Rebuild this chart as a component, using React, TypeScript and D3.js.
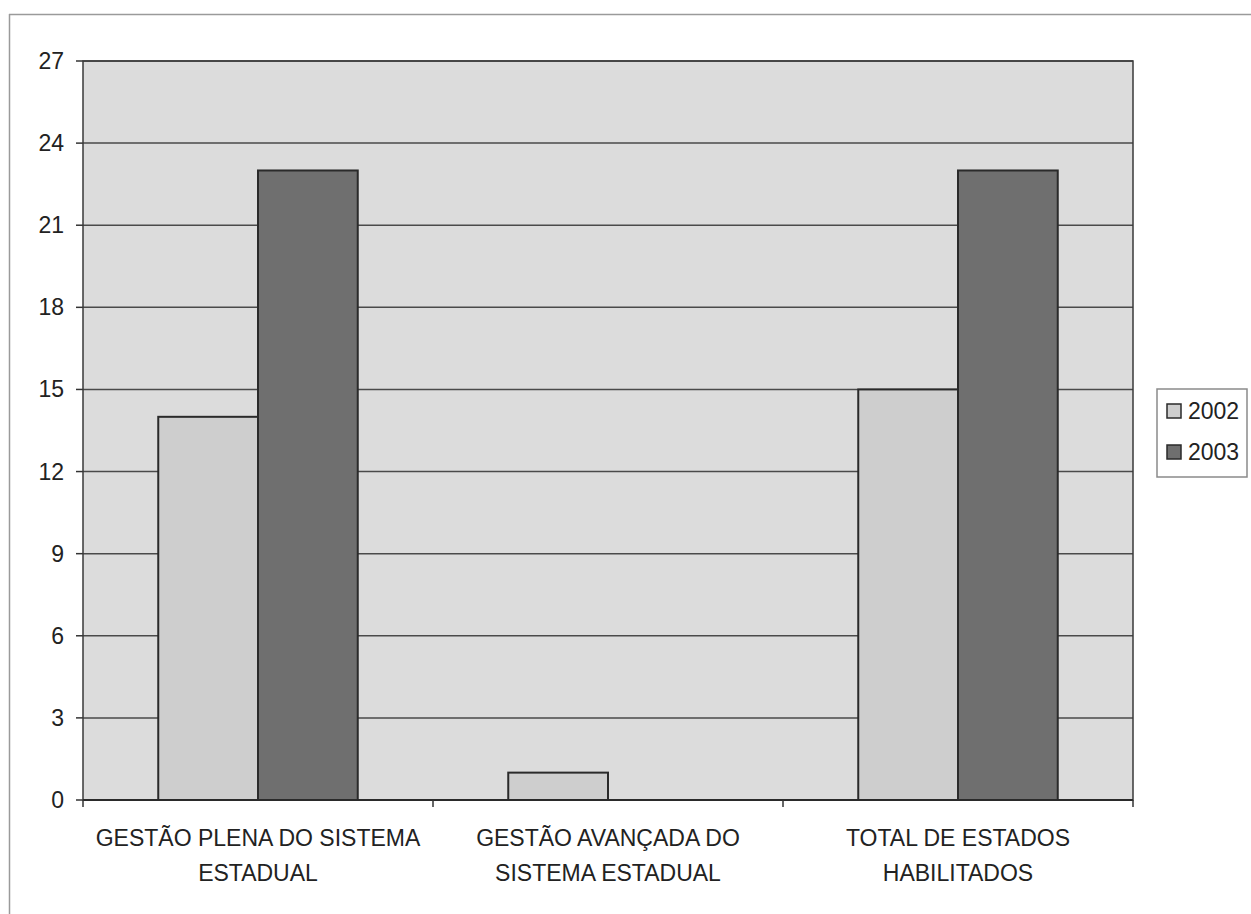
import * as d3 from 'd3';

const categories = [
  ['GESTÃO PLENA DO SISTEMA', 'ESTADUAL'],
  ['GESTÃO AVANÇADA DO', 'SISTEMA ESTADUAL'],
  ['TOTAL DE ESTADOS', 'HABILITADOS'],
];
const seriesNames = ['2002', '2003'];
const values2002 = [14, 1, 15];
const values2003 = [23, 0, 23];
const yTicks = [0, 3, 6, 9, 12, 15, 18, 21, 24, 27];
const colors = ['#cecece', '#6f6f6f'];

const App = () => {
  const width = 1251;
  const height = 914;
  const margin = { top: 61, right: 118, bottom: 114, left: 83 };
  const plotW = width - margin.left - margin.right;
  const plotH = height - margin.top - margin.bottom;

  const x0 = d3
    .scaleBand()
    .domain(categories.map((c, i) => String(i)))
    .range([0, plotW])
    .paddingInner(0)
    .paddingOuter(0);
  // each group takes about 57% of the band
  const x1 = d3
    .scaleBand()
    .domain(seriesNames)
    .range([x0.bandwidth() * 0.215, x0.bandwidth() * 0.785])
    .padding(0);
  const y = d3.scaleLinear().domain([0, 27]).range([plotH, 0]);

  const all = [values2002, values2003];
  const font = 'Arial, "Liberation Sans", sans-serif';

  return (
    <svg
      width={width}
      height={height}
      style={{ position: 'absolute', left: 0, top: 0, background: '#fff' }}
    >
      {/* outer frame */}
      <line x1={9.5} y1={14} x2={9.5} y2={height} stroke="#9a9a9a" strokeWidth={1.5} />
      <line x1={9} y1={14.5} x2={width} y2={14.5} stroke="#9a9a9a" strokeWidth={1.5} />
      <g transform={`translate(${margin.left},${margin.top})`}>
        <rect x={0} y={0} width={plotW} height={plotH} fill="#dcdcdc" />
        {yTicks.map((t) => (
          <g key={t}>
            {t > 0 && (
              <line x1={0} x2={plotW} y1={y(t)} y2={y(t)} stroke="#4a4a4a" strokeWidth={1.5} />
            )}
            <line x1={-7} x2={0} y1={y(t)} y2={y(t)} stroke="#333" strokeWidth={1.5} />
            <text
              x={-19}
              y={y(t)}
              dy="0.35em"
              textAnchor="end"
              fontFamily={font}
              fontSize={23}
              fill="#222"
            >
              {t}
            </text>
          </g>
        ))}
        {/* plot border */}
        <rect x={0} y={0} width={plotW} height={plotH} fill="none" stroke="#3a3a3a" strokeWidth={1.5} />
        {categories.map((c, i) => (
          <g key={i} transform={`translate(${x0(String(i))},0)`}>
            {seriesNames.map((s, j) =>
              all[j][i] > 0 ? (
                <rect
                  key={s}
                  x={x1(s)}
                  y={y(all[j][i])}
                  width={x1.bandwidth()}
                  height={plotH - y(all[j][i])}
                  fill={colors[j]}
                  stroke="#2a2a2a"
                  strokeWidth={2}
                />
              ) : null
            )}
          </g>
        ))}
        {/* x axis */}
        <line x1={0} x2={plotW} y1={plotH} y2={plotH} stroke="#2a2a2a" strokeWidth={2} />
        {d3.range(0, categories.length + 1).map((k) => (
          <line
            key={k}
            x1={k * x0.bandwidth()}
            x2={k * x0.bandwidth()}
            y1={plotH}
            y2={plotH + 7}
            stroke="#333"
            strokeWidth={1.5}
          />
        ))}
        {categories.map((c, i) => (
          <text
            key={i}
            x={(x0(String(i)) || 0) + x0.bandwidth() / 2}
            y={plotH + 46}
            textAnchor="middle"
            fontFamily={font}
            fontSize={23}
            fill="#222"
          >
            {c.map((line, k) => (
              <tspan key={k} x={(x0(String(i)) || 0) + x0.bandwidth() / 2} dy={k === 0 ? 0 : 35}>
                {line}
              </tspan>
            ))}
          </text>
        ))}
      </g>
      {/* legend */}
      <g transform="translate(1157,389)">
        <rect x={0} y={0} width={90} height={88} fill="#fff" stroke="#8a8a8a" strokeWidth={1.5} />
        {seriesNames.map((s, j) => (
          <g key={s} transform={`translate(10,${22 + j * 41})`}>
            <rect x={0} y={-7} width={14} height={14} fill={colors[j]} stroke="#2a2a2a" strokeWidth={1.5} />
            <text x={21} y={0} dy="0.35em" fontFamily={font} fontSize={23} fill="#222">
              {s}
            </text>
          </g>
        ))}
      </g>
    </svg>
  );
};

export default App;
